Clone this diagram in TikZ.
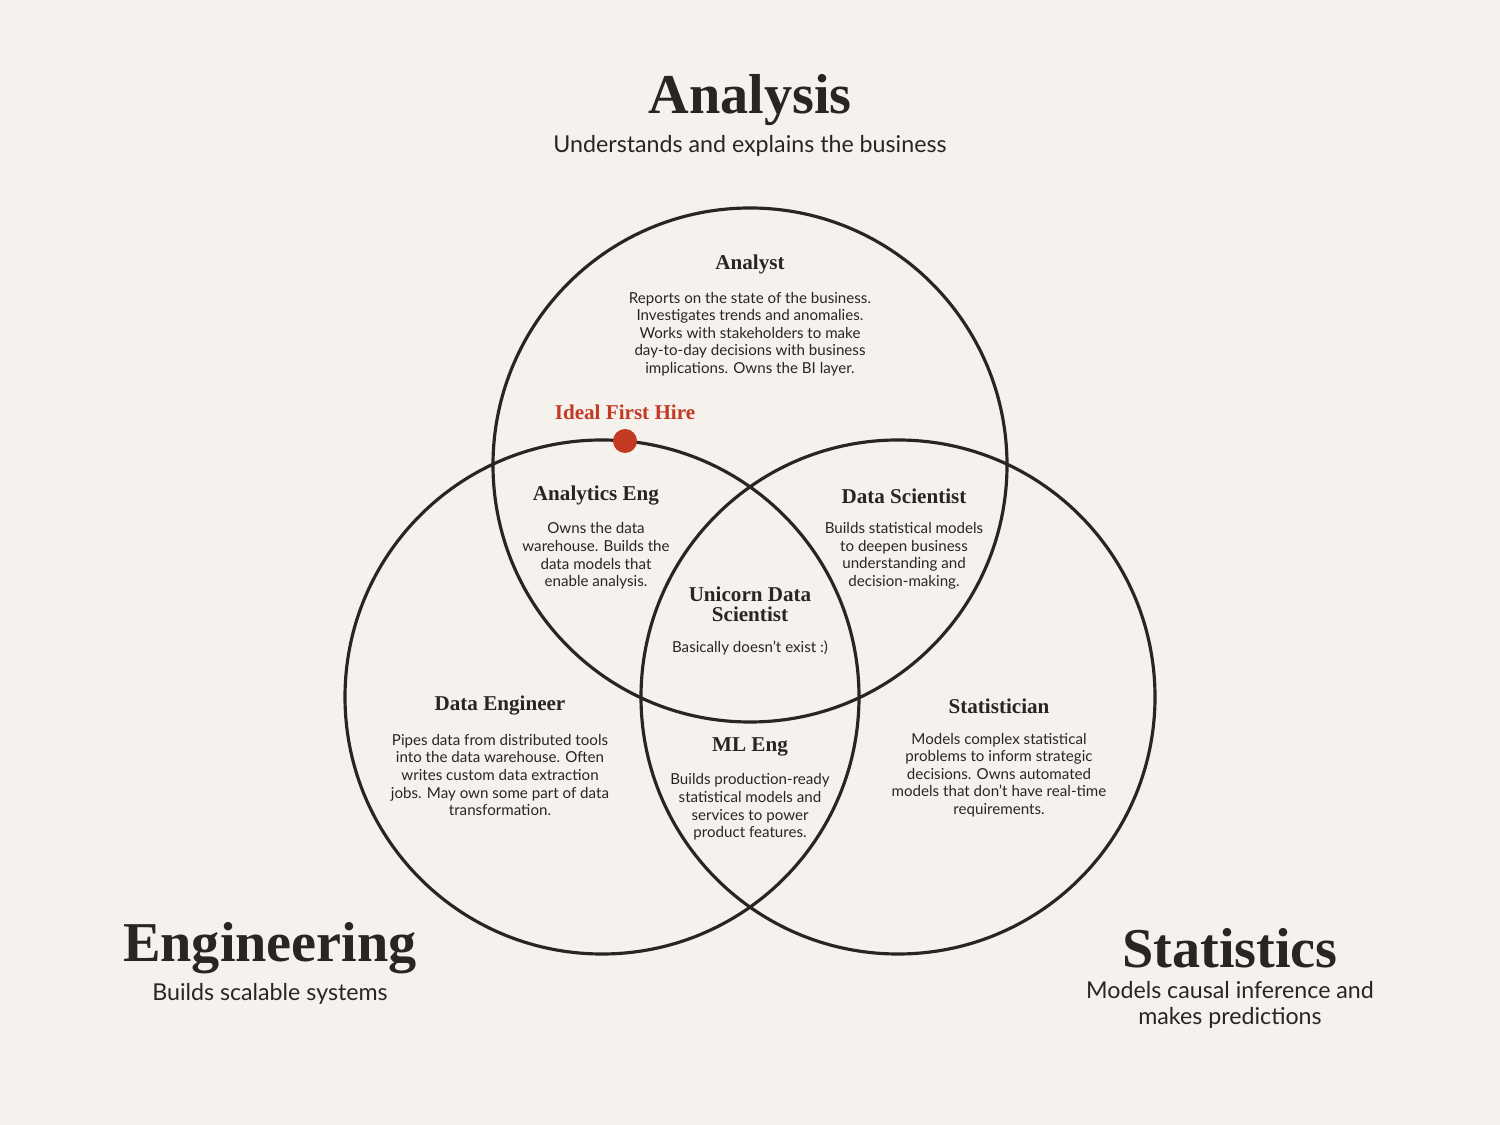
\documentclass[tikz,border=0pt]{standalone}
\usepackage{fontspec}
\setmainfont{Lato}
\newfontfamily\serifb{Liberation Serif}
\definecolor{bg}{HTML}{F5F1ED}
\definecolor{ink}{HTML}{2B2522}
\definecolor{redd}{HTML}{C23A22}
\begin{document}
\begin{tikzpicture}[x=0.01cm,y=-0.01cm,
  big/.style={font=\serifb\bfseries\fontsize{16}{18}\selectfont,text=ink},
  sub/.style={font=\fontsize{6.6}{7.2}\selectfont,text=ink,align=center},
  role/.style={font=\serifb\bfseries\fontsize{6}{6}\selectfont,text=ink,align=center},
  body/.style={font=\fontsize{4.3}{5}\selectfont,text=ink,align=center},
  ring/.style={draw=ink,line width=0.9pt}]
\fill[bg] (0,0) rectangle (1500,1125);
\useasboundingbox (0,0) rectangle (1500,1125);
\draw[ring] (750,465) circle[radius=257];
\draw[ring] (602,697) circle[radius=257];
\draw[ring] (898,697) circle[radius=257];
\node[big] (tA) at (750,100) {Analysis};
\node[sub] (sA) at (750,146) {Understands and explains the business};
\node[big] (tE) at (270,948) {Engineering};
\node[sub] (sE) at (270,994) {Builds scalable systems};
\node[big] (tS) at (1230,948) {Statistics};
\node[sub] (sS) at (1230,1005) {Models causal inference and\\makes predictions};
\node[role] (r1) at (750,264) {Analyst};
\node[body] (b1) at (750,334) {Reports on the state of the business.\\Investigates trends and anomalies.\\Works with stakeholders to make\\day-to-day decisions with business\\implications. Owns the BI layer.};
\node[role,text=redd] (ifh) at (625,412) {Ideal First Hire};
\fill[redd] (625,441) circle[radius=12];
\node[role] (r2) at (596,496) {Analytics Eng};
\node[body] (b2) at (596,556) {Owns the data\\warehouse. Builds the\\data models that\\enable analysis.};
\node[role] (r3) at (904,496) {Data Scientist};
\node[body] (b3) at (904,556) {Builds statistical models\\to deepen business\\understanding and\\decision-making.};
\node[role,font=\serifb\bfseries\fontsize{6}{5.6}\selectfont] (r4) at (750,604) {Unicorn Data\\Scientist};
\node[body] (b4) at (750,648) {Basically doesn't exist :)};
\node[role] (r5) at (500,706) {Data Engineer};
\node[body] (b5) at (500,775) {Pipes data from distributed tools\\into the data warehouse. Often\\writes custom data extraction\\jobs. May own some part of data\\transformation.};
\node[role] (r6) at (999,706) {Statistician};
\node[body] (b6) at (999,775) {Models complex statistical\\problems to inform strategic\\decisions. Owns automated\\models that don't have real-time\\requirements.};
\node[role] (r7) at (750,747) {ML Eng};
\node[body] (b7) at (750,807) {Builds production-ready\\statistical models and\\services to power\\product features.};
\end{tikzpicture}
\end{document}
